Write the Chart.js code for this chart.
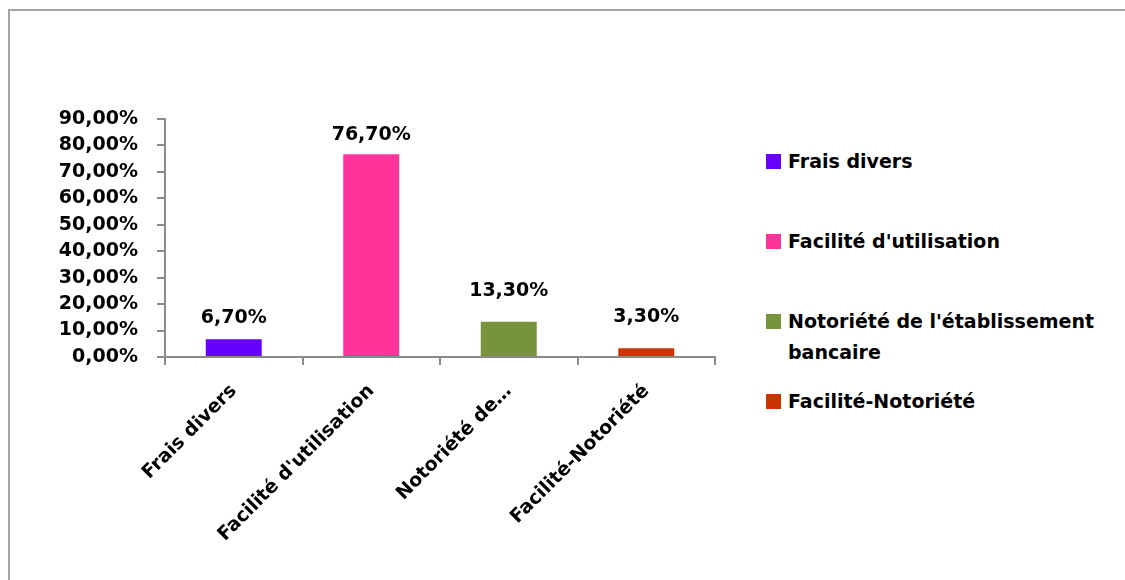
<!DOCTYPE html>
<html>
<head>
<meta charset="utf-8">
<title>Critères de choix</title>
<script src="https://cdn.jsdelivr.net/npm/chart.js@4.4.1/dist/chart.umd.min.js"></script>
<style>
  html, body { margin: 0; padding: 0; background: #fff; overflow: hidden; }
  body { width: 1125px; height: 580px; position: relative; font-family: "DejaVu Sans", sans-serif; }
  .frame { position: absolute; left: 8px; top: 9px; width: 1300px; height: 700px; border: 2px solid #a3a3a3; box-sizing: border-box; }
  #chart { position: absolute; left: 0; top: 0; }
  .legend { position: absolute; left: 766px; top: 0; }
  .legend-item { position: absolute; left: 0; display: flex; align-items: flex-start; font-weight: bold; font-size: 19px; line-height: 31px; color: #000; }
  .legend-item .swatch { width: 15px; height: 15px; margin-top: 8px; margin-right: 7px; flex: none; }
  .legend-item .text { width: 330px; }
</style>
</head>
<body>
<div class="frame"></div>
<canvas id="chart" width="760" height="580"></canvas>
<div class="legend" id="legend"></div>
<script>
const categories = ['Frais divers', "Facilité d'utilisation", "Notoriété de l'établissement bancaire", 'Facilité-Notoriété'];
const percentages = [6.7, 76.7, 13.3, 3.3];
const barColors = ['#6600ff', '#ff3399', '#77933c', '#cc3300'];
const yMax = 90;
const yStep = 10;

const FONT = { family: '"DejaVu Sans", sans-serif', size: 19, weight: 'bold' };
const AXIS_GREY = '#8a8a8a';

const fmtPct = v => v.toFixed(2).replace('.', ',') + '%';
// long names get cut on the axis, the legend keeps them whole
const axisLabel = s => s.length > 24 ? s.split(' ').slice(0, 2).join(' ') + '…' : s;

const valueLabels = {
  id: 'valueLabels',
  afterDatasetsDraw(chart, args, opts) {
    const { ctx } = chart;
    const meta = chart.getDatasetMeta(0);
    ctx.save();
    ctx.font = `bold ${FONT.size}px ${FONT.family}`;
    ctx.fillStyle = '#000';
    ctx.textAlign = 'center';
    ctx.textBaseline = 'middle';
    meta.data.forEach((bar, i) => {
      ctx.fillText(fmtPct(percentages[i]), bar.x, bar.y - opts.lift[i]);
    });
    ctx.restore();
  }
};

new Chart(document.getElementById('chart'), {
  type: 'bar',
  data: {
    labels: categories,
    datasets: [{
      data: percentages,
      backgroundColor: barColors,
      borderWidth: 0,
      barPercentage: 0.407,
      categoryPercentage: 1
    }]
  },
  options: {
    responsive: false,
    animation: false,
    layout: { padding: { top: 119, right: 45, bottom: 0, left: 0 } },
    plugins: {
      legend: { display: false },
      tooltip: { enabled: false },
      valueLabels: { lift: [21, 19, 31, 31] }
    },
    scales: {
      x: {
        grid: { offset: true, drawOnChartArea: false, drawTicks: true, tickLength: 8, color: AXIS_GREY, lineWidth: 2 },
        border: { color: AXIS_GREY, width: 2 },
        ticks: {
          autoSkip: false,
          minRotation: 45,
          maxRotation: 45,
          padding: 15,
          color: '#000',
          font: FONT,
          callback: (v, i) => axisLabel(categories[i])
        },
        afterFit(scale) { scale.height = 223; }
      },
      y: {
        min: 0,
        max: yMax,
        grid: { drawOnChartArea: false, drawTicks: true, tickLength: 8, color: AXIS_GREY, lineWidth: 2 },
        border: { color: AXIS_GREY, width: 2 },
        ticks: {
          stepSize: yStep,
          padding: 19,
          color: '#000',
          font: FONT,
          callback: v => fmtPct(v)
        },
        afterFit(scale) { scale.width = 165; }
      }
    }
  },
  plugins: [valueLabels]
});

// legend on the right, one row per category
const legend = document.getElementById('legend');
categories.forEach((name, i) => {
  const item = document.createElement('div');
  item.className = 'legend-item';
  item.style.top = (145.5 + i * 80) + 'px';
  item.innerHTML = `<span class="swatch" style="background:${barColors[i]}"></span><span class="text"></span>`;
  item.querySelector('.text').textContent = name;
  legend.appendChild(item);
});
</script>
</body>
</html>
